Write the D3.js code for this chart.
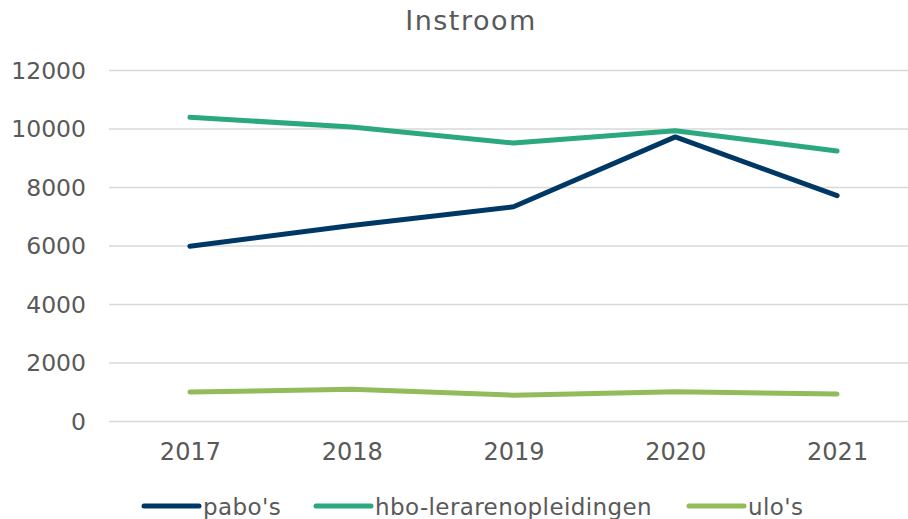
<!DOCTYPE html>
<html>
<head>
<meta charset="utf-8">
<script src="https://cdn.jsdelivr.net/npm/d3@7"></script>
<style>
  html, body { margin: 0; padding: 0; background: #fff; }
  #svg-container { width: 908px; height: 519px; }
  text { font-family: "DejaVu Sans", Verdana, sans-serif; fill: #595959; }
</style>
</head>
<body>
<div id="svg-container"></div>
<script>
// data
const years = ["2017", "2018", "2019", "2020", "2021"];
const pabo = [5990, 6700, 7340, 9730, 7720];
const hbo = [10400, 10070, 9520, 9940, 9250];
const ulo = [1010, 1100, 900, 1020, 940];
const yTicks = [0, 2000, 4000, 6000, 8000, 10000, 12000];
const seriesNames = ["pabo's", "hbo-lerarenopleidingen", "ulo's"];
const colors = ["#003865", "#2ba87e", "#92bb5a"];

const width = 908;
const height = 519;

const svg = d3.select("#svg-container").append("svg")
  .attr("width", width)
  .attr("height", height);

// scales
const xScale = d3.scalePoint().domain(years).range([109, 918]).padding(0.5);
const yScale = d3.scaleLinear().domain([0, 12000]).range([421.5, 70.5]);

// title
svg.append("text")
  .attr("x", 471)
  .attr("y", 30)
  .attr("text-anchor", "middle")
  .style("font-size", "27px")
  .style("letter-spacing", "1.5px")
  .text("Instroom");

// gridlines
svg.append("g")
  .selectAll("line")
  .data(yTicks)
  .join("line")
  .attr("x1", 109)
  .attr("x2", 918)
  .attr("y1", (d) => yScale(d))
  .attr("y2", (d) => yScale(d))
  .attr("stroke", "#d9d9d9")
  .attr("stroke-width", 1.5);

// y axis labels
const yAxis = d3.axisLeft(yScale)
  .tickValues(yTicks)
  .tickFormat(d3.format("d"))
  .tickSize(0)
  .tickPadding(0);
svg.append("g")
  .attr("class", "y-axis")
  .attr("transform", "translate(86,0)")
  .call(yAxis)
  .call((g) => g.select(".domain").remove())
  .selectAll("text")
  .style("font-size", "23.5px")
  .attr("fill", "#595959");

// x axis labels
const xAxis = d3.axisBottom(xScale).tickSize(0).tickPadding(0);
svg.append("g")
  .attr("class", "x-axis")
  .attr("transform", "translate(0,443)")
  .call(xAxis)
  .call((g) => g.select(".domain").remove())
  .selectAll("text")
  .style("font-size", "24px")
  .attr("fill", "#595959");

svg.selectAll(".tick text").style("font-family", "'DejaVu Sans', Verdana, sans-serif");

// lines
const line = d3.line()
  .x((d, i) => xScale(years[i]))
  .y((d) => yScale(d));

[pabo, hbo, ulo].forEach((s, i) => {
  svg.append("path")
    .datum(s)
    .attr("fill", "none")
    .attr("stroke", colors[i])
    .attr("stroke-width", 5)
    .attr("stroke-linecap", "round")
    .attr("stroke-linejoin", "round")
    .attr("d", line);
});

// legend
const legendX = [144, 316, 689];
const legend = svg.append("g");
seriesNames.forEach((name, i) => {
  legend.append("line")
    .attr("x1", legendX[i])
    .attr("x2", legendX[i] + 55)
    .attr("y1", 506)
    .attr("y2", 506)
    .attr("stroke", colors[i])
    .attr("stroke-width", 5)
    .attr("stroke-linecap", "round");
  legend.append("text")
    .attr("x", legendX[i] + 59)
    .attr("y", 515)
    .style("font-size", "23px")
    .style("letter-spacing", "0.4px")
    .text(name);
});
</script>
</body>
</html>
